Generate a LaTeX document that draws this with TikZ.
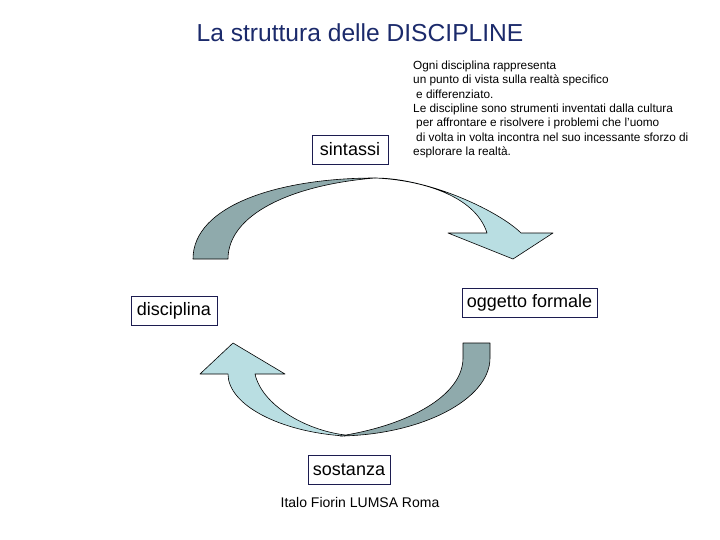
\documentclass[tikz,border=0pt]{standalone}
\usepackage{fontspec}
\setmainfont{Liberation Sans}
\usepackage{xcolor}
\definecolor{navy}   {HTML}{1B2A6B}
\definecolor{frame}  {HTML}{1C1C50}
\definecolor{shade}  {HTML}{8FAAAC}
\definecolor{shadeLt}{HTML}{B9DEE2}

\begin{document}
\begin{tikzpicture}[
  x=1pt, y=-1pt,
  box/.style={rectangle, draw=frame, line width=0.8pt, fill=white, inner sep=0pt,
              font=\fontsize{18}{21}\selectfont, text=black, minimum height=29pt},
  band/.style={draw=black, line width=0.6pt, line join=round},
  note/.style={font=\fontsize{11.8}{14.4}\selectfont, text=black, align=left, inner sep=0pt}
]
\useasboundingbox (0,0) rectangle (720,540);
\node[font=\fontsize{24.6}{28}\selectfont, text=navy, anchor=base] (title) at (360,42) {La struttura delle DISCIPLINE};
% upper curved arrow
\filldraw[band, fill=shade] (193,259) .. controls (193,205) and (280,178) .. (375,178)
  .. controls (290,185) and (228,215) .. (228,259) -- cycle;
\filldraw[band, fill=shadeLt] (375,178) .. controls (430,178) and (500,212) .. (521,233)
  -- (553,233) -- (513,259) -- (448,233) -- (487,233)
  .. controls (475,195) and (420,180) .. (375,178) -- cycle;
% lower curved arrow
\filldraw[band, fill=shade] (463,343) -- (490,343) -- (490,358)
  .. controls (490,400) and (420,435) .. (340,436)
  .. controls (410,425) and (463,395) .. (463,358) -- cycle;
\filldraw[band, fill=shadeLt] (345,436) .. controls (280,432) and (228,405) .. (228,374)
  -- (200,374) -- (233,343) -- (285,374) -- (255,374)
  .. controls (262,405) and (305,430) .. (345,435) -- cycle;
% boxes
\node[box, minimum width=76pt] (sin) at (350,149.5) {sintassi};
\node[box, minimum width=86pt] (dis) at (174,311) {disciplina};
\node[box, minimum width=135pt] (ogg) at (529.5,302.5) {oggetto formale};
\node[box, minimum width=82pt] (sos) at (349,469.5) {sostanza};
\node[note, anchor=north west] (txt) at (413,60.5) {Ogni disciplina rappresenta\\
un punto di vista sulla realtà specifico\\
\hspace*{3pt}e differenziato.\\
Le discipline sono strumenti inventati dalla cultura\\
\hspace*{3pt}per affrontare e risolvere i problemi che l'uomo\\
\hspace*{3pt}di volta in volta incontra nel suo incessante sforzo di\\
esplorare la realtà.};
\node[font=\fontsize{14}{16}\selectfont, text=black, anchor=base] (foot) at (360,507) {Italo Fiorin LUMSA Roma};
\end{tikzpicture}
\end{document}
